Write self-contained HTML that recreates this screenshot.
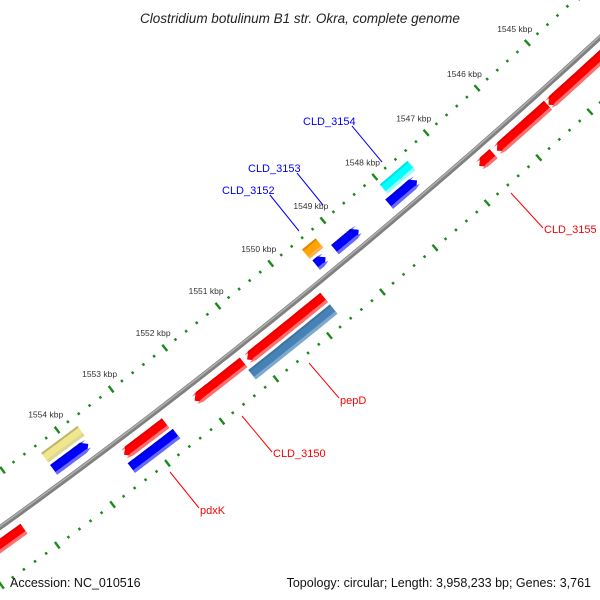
<!DOCTYPE html>
<html><head><meta charset="utf-8"><style>
html,body{margin:0;padding:0;background:#fff}
svg{display:block;font-family:"Liberation Sans",sans-serif}
</style></head><body>
<svg id="map" width="600" height="600" viewBox="0 0 600 600">
<rect width="600" height="600" fill="#fff"/>
<g id="ticks"></g>
<g id="backbone"></g>
<g id="features"></g>
<g id="labels"></g>
<g font-size="11">
 <line x1="352" y1="126" x2="382" y2="162" stroke="#0000ff" stroke-width="1"/>
 <text x="303" y="125" fill="#0000ff">CLD_3154</text>
 <line x1="297" y1="173" x2="323" y2="205" stroke="#0000ff" stroke-width="1"/>
 <text x="248" y="172" fill="#0000ff">CLD_3153</text>
 <line x1="270" y1="195" x2="299" y2="231" stroke="#0000ff" stroke-width="1"/>
 <text x="222" y="194" fill="#0000ff">CLD_3152</text>
 <line x1="511" y1="193" x2="543" y2="228" stroke="#ff0000" stroke-width="1"/>
 <text x="544" y="233" fill="#ff0000">CLD_3155</text>
 <line x1="309" y1="363" x2="339" y2="398" stroke="#ff0000" stroke-width="1"/>
 <text x="340" y="404" fill="#ff0000">pepD</text>
 <line x1="242" y1="416" x2="272" y2="452" stroke="#ff0000" stroke-width="1"/>
 <text x="273" y="457" fill="#ff0000">CLD_3150</text>
 <line x1="170" y1="472" x2="199" y2="508" stroke="#ff0000" stroke-width="1"/>
 <text x="200" y="514" fill="#ff0000">pdxK</text>
</g>
<text x="300" y="23" text-anchor="middle" font-size="13.5" font-style="italic" fill="#222">Clostridium botulinum B1 str. Okra, complete genome</text>
<text x="10" y="587" font-size="12.5" fill="#111">Accession: NC_010516</text>
<text x="591" y="587" text-anchor="end" font-size="12.5" fill="#111">Topology: circular; Length: 3,958,233 bp; Genes: 3,761</text>
</svg>
<script>
// ---- data ----
const featStarts = [1544000,1545390,1546455,1549707,1551220,1552667,1555252,1549707,1552634,1547561,1548683,1549317,1553756,1547480,1549252,1553724];
const featEnds   = [1545380,1546390,1546732,1551154,1552130,1553431,1556600,1551236,1553463,1548098,1549138,1549496,1554390,1548016,1549512,1554390];
const featRows   = [1,1,1,1,1,1,1,2,2,-1,-1,-1,-1,-2,-2,-2];
const featDirs   = [-1,-1,-1,-1,-1,-1,-1,0,0,1,1,1,1,0,0,0];
const featColors = ["red","red","red","red","red","red","red","steelblue","blue","blue","blue","blue","blue","cyan","orange","khaki","khaki"];
const featNames  = ["cld-3155-a","cld-3155-b","cld-3155-c","pepd-cds","cld-3150","pdxk-cds","cds-left","pepd-gene","pdxk-gene","cld-3154-cds","cld-3153-cds","cld-3152-cds","cds-1554","cld-3154-gene","cld-3152-gene","gene-1554"];
const tickLabels = [1545,1546,1547,1548,1549,1550,1551,1552,1553,1554];
const tickStart = 1543000, tickEnd = 1557000, tickStep = 200;

// ---- axis (circular) ----
const CX=-3711, CY=-4629, R=6353;
const REF_BP=1548000, REF_DEG=49.63, DEG_PER_KBP=0.615;
function ang(bp){return (REF_DEG+(bp-REF_BP)/1000*DEG_PER_KBP)*Math.PI/180;}
function pt(r,bp){const t=ang(bp);return [CX+r*Math.cos(t),CY+r*Math.sin(t)];}
const NS="http://www.w3.org/2000/svg";
function mk(tag,attrs,parent){const e=document.createElementNS(NS,tag);for(const k in attrs)e.setAttribute(k,attrs[k]);parent.appendChild(e);return e;}

// backbone
const bb=document.getElementById('backbone');
function arcPath(r,a,b){let d="";for(let i=0;i<=60;i++){const p=pt(r,a+(b-a)*i/60);d+=(i?"L":"M")+p[0].toFixed(1)+" "+p[1].toFixed(1);}return d;}
const bb1=mk('path',{d:arcPath(R,1543000,1557500),stroke:"#808080","stroke-width":5,fill:"none"},bb);


const bb2=mk('path',{d:arcPath(R-1,1543000,1557500),stroke:"#b0b0b0","stroke-width":1.5,fill:"none"},bb);



// ticks
const tg=document.getElementById('ticks');
const ringR=[R-45,R+48];
for(let bp=tickStart;bp<=tickEnd;bp+=tickStep){
  const major=(bp%1000===0);
  for(const rr of ringR){
    const h=major?4:1.3;
    const p1=pt(rr-h,bp),p2=pt(rr+h,bp);
    const l=mk('line',{x1:p1[0],y1:p1[1],x2:p2[0],y2:p2[1],stroke:"#1a8a1a","stroke-width":2.4},tg);
    
    
  }
}
const lg=document.getElementById('labels');
for(const k of tickLabels){
  const p=pt(R-64,k*1000);
  const t=mk('text',{x:p[0].toFixed(1),y:(p[1]+3).toFixed(1),"text-anchor":"middle","font-size":"8.5",fill:"#333"},lg);
  t.textContent=k+" kbp";
  
  
}

// features
const light={red:"#ff7070",blue:"#6a6aff",steelblue:"#7fa8d0",cyan:"#9ffcfc",orange:"#ffb050",khaki:"#dcd79a"};
const dark={red:"#d00000",blue:"#0000c0",steelblue:"#3a6a96",cyan:"#00d0d0",orange:"#d07000",khaki:"#9a9455"};
const fg=document.getElementById('features');
function band(a,b,rc,w,dir){
  const ri=rc-w/2,ro=rc+w/2;
  const pxPerBp=rc*DEG_PER_KBP/1000*Math.PI/180;
  let h=Math.min(6/pxPerBp,(b-a)/2);
  const pts=[];const N=20;
  if(dir===-1){
    for(let i=0;i<=N;i++)pts.push(pt(ro,a+(b-h-a)*i/N));
    pts.push(pt(rc,b));
    for(let i=N;i>=0;i--)pts.push(pt(ri,a+(b-h-a)*i/N));
  }else if(dir===1){
    pts.push(pt(rc,a));
    for(let i=0;i<=N;i++)pts.push(pt(ro,a+h+(b-a-h)*i/N));
    for(let i=N;i>=0;i--)pts.push(pt(ri,a+h+(b-a-h)*i/N));
  }else{
    for(let i=0;i<=N;i++)pts.push(pt(ro,a+(b-a)*i/N));
    for(let i=N;i>=0;i--)pts.push(pt(ri,a+(b-a)*i/N));
  }
  return pts.map(p=>p[0].toFixed(1)+","+p[1].toFixed(1)).join(" ");
}
for(let i=0;i<featStarts.length;i++){
  const rc=R+featRows[i]*15, w=12, c=featColors[i];
  const g=mk('g',{},fg);
  
  
  const base=mk('polygon',{points:band(featStarts[i],featEnds[i],rc,w,featDirs[i]),fill:c},g);
  
  
  const hi=mk('polygon',{points:band(featStarts[i],featEnds[i],rc+w/2-1.6,3.2,featDirs[i]),fill:light[c]},g);
  
  
  const dk=mk('polygon',{points:band(featStarts[i],featEnds[i],rc-w/2+1,2,featDirs[i]),fill:dark[c],opacity:0.6},g);
  
  
}
</script>
</body></html>
